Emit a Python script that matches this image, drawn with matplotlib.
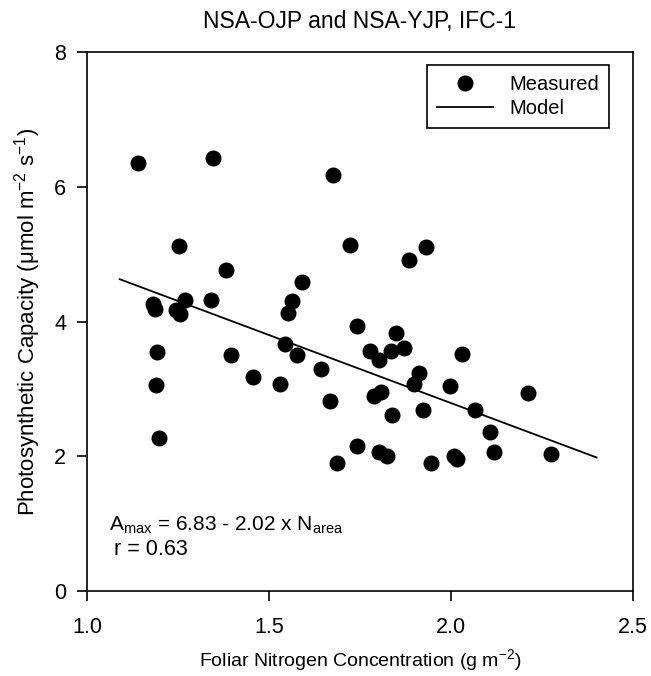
import matplotlib
matplotlib.use("Agg")
import matplotlib.pyplot as plt
import numpy as np

plt.rcParams['font.family'] = ['Liberation Sans', 'DejaVu Sans']
plt.rcParams['mathtext.fontset'] = 'custom'
plt.rcParams['mathtext.rm'] = 'Liberation Sans'
plt.rcParams['mathtext.it'] = 'Liberation Sans:italic'

# Foliar nitrogen (g m-2) and photosynthetic capacity (umol m-2 s-1)
n_area = [1.141, 1.345, 1.252, 1.383, 1.592, 1.182, 1.187, 1.269, 1.245, 1.255,
          1.341, 1.562, 1.552, 1.543, 1.576, 1.192, 1.396, 1.456, 1.530, 1.190,
          1.197, 1.676, 1.723, 1.931, 1.885, 1.743, 1.849, 1.777, 1.835, 1.872,
          2.031, 1.802, 1.644, 1.913, 1.898, 1.996, 1.789, 1.808, 1.668, 1.924,
          1.839, 2.067, 1.741, 1.803, 1.825, 1.688, 1.944, 2.009, 2.016, 2.212,
          2.106, 2.119, 2.275]
a_max = [6.36, 6.43, 5.12, 4.76, 4.58, 4.26, 4.18, 4.32, 4.17, 4.11,
         4.32, 4.31, 4.13, 3.66, 3.50, 3.55, 3.51, 3.17, 3.08, 3.06,
         2.27, 6.18, 5.14, 5.10, 4.91, 3.94, 3.83, 3.56, 3.56, 3.61,
         3.52, 3.43, 3.29, 3.23, 3.07, 3.05, 2.90, 2.95, 2.82, 2.69,
         2.61, 2.69, 2.16, 2.07, 2.01, 1.90, 1.90, 2.01, 1.96, 2.94,
         2.36, 2.07, 2.03]

# Linear model: Amax = intercept + slope * N_area
intercept = 6.83
slope = -2.02
r_value = 0.63
model_range = [1.09, 2.40]

x_ticks = [1.0, 1.5, 2.0, 2.5]
y_ticks = [0, 2, 4, 6, 8]

fig = plt.figure(figsize=(6.51, 6.76), dpi=100)
ax = fig.add_axes([0.1336, 0.1257, 0.8387, 0.7973])

ax.plot(n_area, a_max, 'o', color='black', markersize=10.5, label='Measured', zorder=3)
xm = np.array(model_range)
ax.plot(xm, intercept + slope * xm, '-', color='black', linewidth=1.3, label='Model', zorder=2)

ax.set_xlim(1.0, 2.5)
ax.set_ylim(0, 8)
ax.set_xticks(x_ticks)
ax.set_xticklabels([f'{v:.1f}' for v in x_ticks])
ax.set_yticks(y_ticks)
ax.tick_params(direction='out', length=7, width=1.2, labelsize=15.5)
ax.tick_params(axis='x', pad=12)
ax.tick_params(axis='y', pad=8)
for s in ax.spines.values():
    s.set_linewidth(1.2)

ax.set_title('NSA-OJP and NSA-YJP, IFC-1', fontsize=16.5, pad=17)
ax.set_xlabel('Foliar Nitrogen Concentration (g m$^{\\mathregular{-2}}$)', fontsize=14, labelpad=6)
ax.set_ylabel('Photosynthetic Capacity (μmol m$^{\\mathregular{-2}}$ s$^{\\mathregular{-1}}$)', fontsize=16, labelpad=8)

ax.text(1.06, 0.98, f'A$_{{\\mathregular{{max}}}}$ = {intercept:.2f} - {abs(slope):.2f} x N$_{{\\mathregular{{area}}}}$',
        fontsize=15, ha='left', va='center')
ax.text(1.075, 0.62, f'r = {r_value:.2f}', fontsize=15.5, ha='left', va='center')

leg = ax.legend(loc='upper right', bbox_to_anchor=(0.975, 0.995), fontsize=14.5,
                frameon=True, fancybox=False, edgecolor='black', framealpha=1,
                handlelength=2.8, borderpad=0.5, labelspacing=0.25, numpoints=1)
leg.get_frame().set_linewidth(1.2)

fig.savefig('out.png', dpi=100)
